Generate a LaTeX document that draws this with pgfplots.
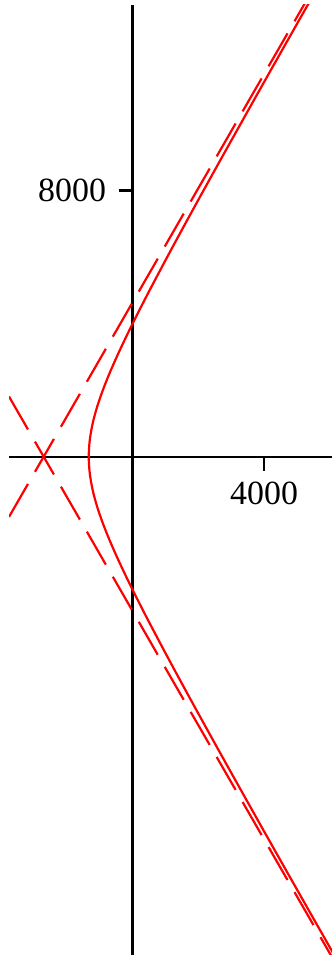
\documentclass[border=0pt]{standalone}
\usepackage{pgfplots}
\pgfplotsset{compat=1.18}
\usepackage{fontspec}
\setmainfont{Liberation Serif}
\begin{document}
\begin{tikzpicture}
\path[use as bounding box] (0,0) rectangle (332bp,955bp);
\begin{axis}[
  at={(9bp,0bp)}, anchor=south west,
  scale only axis, width=323bp, height=950bp,
  xmin=-3754, xmax=6064, ymin=-14964, ymax=13565,
  axis lines=middle,
  axis line style={-, line width=2.4bp, black},
  xtick={4000}, ytick={8000},
  xticklabels={4000}, yticklabels={8000},
  tick align=outside,
  major tick length=14bp,
  tick style={line width=2.4bp, black},
  ticklabel style={font=\fontsize{34}{34}\selectfont},
  xticklabel style={yshift=-8bp},
  yticklabel style={xshift=-9bp},
  clip=true,
]
% hyperbola branch (x+2700)^2/1370^2 - y^2/2350^2 = 1
\addplot[red, line width=2.2bp, smooth] coordinates {
  (6151,-15000) (5576,-14000) (5001,-13000) (4428,-12000) (3857,-11000)
  (3289,-10000) (2723,-9000) (2161,-8000) (1605,-7000) (1057,-6000)
  (521,-5000) (260,-4500) (5,-4000) (-242,-3500) (-478,-3000) (-700,-2500)
  (-901,-2000) (-1075,-1500) (-1211,-1000) (-1299,-500) (-1330,0)
  (-1299,500) (-1211,1000) (-1075,1500) (-901,2000) (-700,2500)
  (-478,3000) (-242,3500) (5,4000) (260,4500) (521,5000) (1057,6000)
  (1605,7000) (2161,8000) (2723,9000) (3289,10000) (3857,11000)
  (4428,12000) (5001,13000) (5576,14000)
};
% asymptotes y = +-1.715 (x+2700)
\addplot[red, line width=2.2bp, dash pattern=on 38bp off 14bp] coordinates {(-3754,-1807.6) (6100,15092)};
\addplot[red, line width=2.2bp, dash pattern=on 38bp off 14bp] coordinates {(-3754,1807.6) (6100,-15092)};
\end{axis}
\end{tikzpicture}
\end{document}
